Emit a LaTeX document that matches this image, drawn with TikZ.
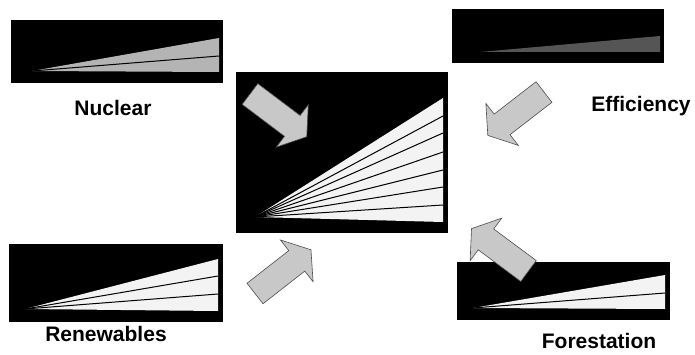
\documentclass[tikz,border=0pt]{standalone}
\usepackage{fontspec}
\setmainfont{Liberation Sans}
\usetikzlibrary{positioning}
\definecolor{arrowgray}{HTML}{C8C8C8}
\definecolor{bandlight}{HTML}{F3F3F3}
\definecolor{bandgray}{HTML}{B4B4B4}
\definecolor{banddark}{HTML}{555555}
\newcommand{\blockarrow}[3]{%
    % #1=x, #2=y of tail, #3=angle
    \draw[arrowbody, shift={(#1,#2)}, rotate=#3]
        (0,-13) -- (53,-13) -- (53,-26.5) -- (71,0) -- (53,26.5) -- (53,13) -- (0,13) -- cycle;
}

\begin{document}
\begin{tikzpicture}[x=1pt, y=1pt,
    panel/.style={rectangle, fill=black, inner sep=0pt, outer sep=0pt},
    bandline/.style={draw=black, line width=1pt},
    arrowbody/.style={fill=arrowgray, draw=black!70, line width=0.6pt, line join=miter},
    chartlabel/.style={anchor=base, font=\fontsize{21}{25}\selectfont\bfseries, inner sep=0pt}
]
    \useasboundingbox (0,0) rectangle (695,354);

    % panels
    \node[panel, minimum width=212pt, minimum height=63pt] (nuclear) at (117,302.5) {};
    \node[panel, minimum width=212pt, minimum height=54pt] (efficiency) at (558,318) {};
    \node[panel, minimum width=212pt, minimum height=161pt] (total) at (342,201.5) {};
    \node[panel, minimum width=214pt, minimum height=78pt] (renewables) at (116,71) {};
    \node[panel, minimum width=213pt, minimum height=58pt] (forestation) at (563.5,63) {};

    % nuclear wedge
    \coordinate (nucapex) at (32,283);
    \fill[bandgray] (nucapex) -- (219,316) -- (219,282) -- cycle;
    \draw[bandline] (nucapex) -- (219,298);

    % efficiency wedge
    \coordinate (effapex) at (480,302);
    \fill[banddark] (effapex) -- (660,318) -- (660,302) -- cycle;

    % total fan
    \coordinate (totapex) at (255,137);
    \fill[bandlight] (totapex) -- (443,256) -- (443,132) -- cycle;
    \foreach \y in {238,221,202,184,167,149}
        \draw[bandline] (totapex) -- (443,\y);

    % renewables wedge
    \coordinate (renapex) at (25,45);
    \fill[bandlight] (renapex) -- (218,95) -- (218,43) -- cycle;
    \foreach \y in {78,60}
        \draw[bandline] (renapex) -- (218,\y);

    % forestation wedge
    \coordinate (forapex) at (473,46);
    \fill[bandlight] (forapex) -- (665,79) -- (665,45) -- cycle;
    \draw[bandline] (forapex) -- (665,61);

    % arrows
    \blockarrow{250}{260}{-37}
    \blockarrow{544}{262}{217.7}
    \blockarrow{255}{60.5}{38}
    \blockarrow{528.5}{83}{143.4}

    % labels
    \node[chartlabel] (nuclearlbl) at (113,239) {Nuclear};
    \node[chartlabel] (efficiencylbl) at (641,242) {Efficiency};
    \node[chartlabel] (renewableslbl) at (106,13) {Renewables};
    \node[chartlabel] (forestationlbl) at (599,6) {Forestation};
\end{tikzpicture}
\end{document}
